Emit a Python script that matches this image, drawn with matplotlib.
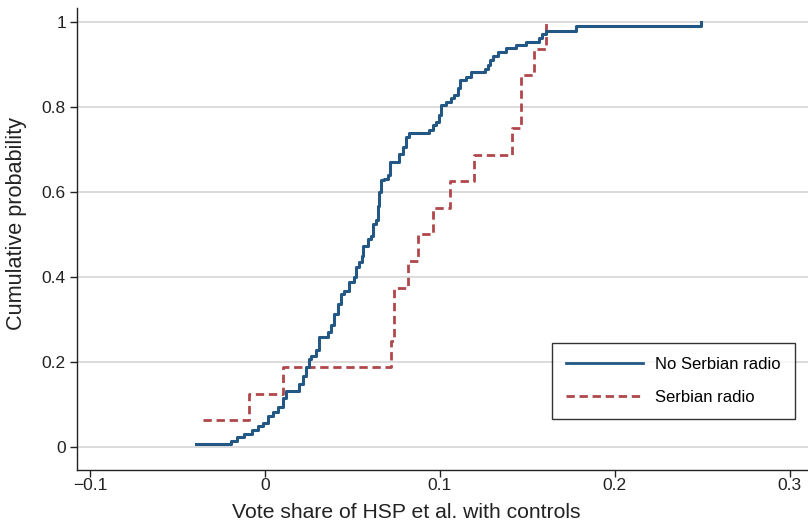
#!/usr/bin/env python3
import matplotlib
matplotlib.use("Agg")
import matplotlib.pyplot as plt

# Step points (x = vote share, p = cumulative probability)
no_radio_x = [-0.0394, -0.0194, -0.0160, -0.0120, -0.0074, -0.0040, -0.0011, 0.0017,
              0.0046, 0.0074, 0.0103, 0.0120, 0.0194, 0.0217, 0.0234, 0.0251,
              0.0263, 0.0291, 0.0309, 0.0360, 0.0377, 0.0394, 0.0417, 0.0434,
              0.0451, 0.0480, 0.0509, 0.0520, 0.0537, 0.0554, 0.0560, 0.0589,
              0.0606, 0.0617, 0.0634, 0.0646, 0.0651, 0.0663, 0.0680, 0.0703,
              0.0714, 0.0766, 0.0789, 0.0806, 0.0823, 0.0937, 0.0960, 0.0977,
              0.0994, 0.1006, 0.1034, 0.1063, 0.1080, 0.1103, 0.1114, 0.1149,
              0.1177, 0.1257, 0.1274, 0.1286, 0.1303, 0.1331, 0.1377, 0.1434,
              0.1491, 0.1566, 0.1583, 0.1606, 0.1777, 0.2491]
no_radio_p = [0.007, 0.014, 0.023, 0.031, 0.039, 0.048, 0.057, 0.072,
              0.083, 0.095, 0.116, 0.131, 0.147, 0.166, 0.187, 0.206,
              0.213, 0.229, 0.258, 0.270, 0.288, 0.312, 0.336, 0.359,
              0.367, 0.387, 0.400, 0.423, 0.435, 0.450, 0.473, 0.489,
              0.497, 0.525, 0.533, 0.568, 0.600, 0.627, 0.631, 0.639,
              0.671, 0.690, 0.706, 0.730, 0.738, 0.745, 0.757, 0.765,
              0.781, 0.805, 0.812, 0.820, 0.828, 0.844, 0.864, 0.871,
              0.882, 0.889, 0.899, 0.911, 0.921, 0.929, 0.938, 0.946,
              0.954, 0.962, 0.972, 0.979, 0.990, 1.000]

radio_x = [-0.0354, -0.0091, 0.0103, 0.0720, 0.0737, 0.0817, 0.0874,
           0.0960, 0.1057, 0.1194, 0.1411, 0.1463, 0.1537, 0.1606]
radio_p = [0.0625, 0.125, 0.1875, 0.25, 0.375, 0.4375, 0.5,
           0.5625, 0.625, 0.6875, 0.75, 0.875, 0.9375, 1.0]

x_ticks = [-0.1, 0, 0.1, 0.2, 0.3]
x_tick_labels = ["\u22120.1", "0", "0.1", "0.2", "0.3"]
y_ticks = [0, 0.2, 0.4, 0.6, 0.8, 1]
y_tick_labels = ["0", "0.2", "0.4", "0.6", "0.8", "1"]

BLUE = "#235784"
RED = "#b0474b"
TXT = "#222222"

plt.rcParams["font.family"] = ["Liberation Sans", "DejaVu Sans"]

fig = plt.figure(figsize=(8.08, 5.24), dpi=100)
ax = fig.add_axes([0.0953, 0.103, 0.905, 0.882])

# horizontal grid lines
for y in y_ticks:
    ax.axhline(y, color="#d6d6d6", lw=1.2, zorder=0)

ax.step(no_radio_x, no_radio_p, where="post", color=BLUE, lw=2.2,
        label="No Serbian radio", zorder=3)
ax.step(radio_x, radio_p, where="post", color=RED, lw=2.0,
        dashes=(3.0, 1.7), label="Serbian radio", zorder=2)

ax.set_xlim(-0.1074, 0.3105)
ax.set_ylim(-0.0545, 1.0333)

ax.set_xticks(x_ticks)
ax.set_xticklabels(x_tick_labels)
ax.set_yticks(y_ticks)
ax.set_yticklabels(y_tick_labels)
ax.tick_params(axis="both", direction="out", length=5, width=1, labelsize=12.5,
               colors=TXT)
ax.tick_params(axis="x", pad=1)
ax.tick_params(axis="y", pad=3)

for side in ["top", "right"]:
    ax.spines[side].set_visible(False)
for side in ["left", "bottom"]:
    ax.spines[side].set_linewidth(1)
    ax.spines[side].set_color(TXT)

ax.set_xlabel("Vote share of HSP et al. with controls", fontsize=15.2, color=TXT)
ax.xaxis.set_label_coords((406 - 77) / 731, -0.071)
ax.set_ylabel("Cumulative probability", fontsize=15.6, color=TXT)
ax.yaxis.set_label_coords(-0.068, (470 - 225) / 460)

leg = ax.legend(loc="upper left", bbox_to_anchor=(552 / 808, 1 - 343 / 524),
                bbox_transform=fig.transFigure, fontsize=12, frameon=True,
                fancybox=False, edgecolor="black", handlelength=4.6,
                handletextpad=0.75, borderpad=0.85, labelspacing=1.05,
                borderaxespad=0)
leg.get_frame().set_linewidth(1)
for line in leg.get_lines():
    line.set_linewidth(2.0)

fig.savefig("out.png", dpi=100)
